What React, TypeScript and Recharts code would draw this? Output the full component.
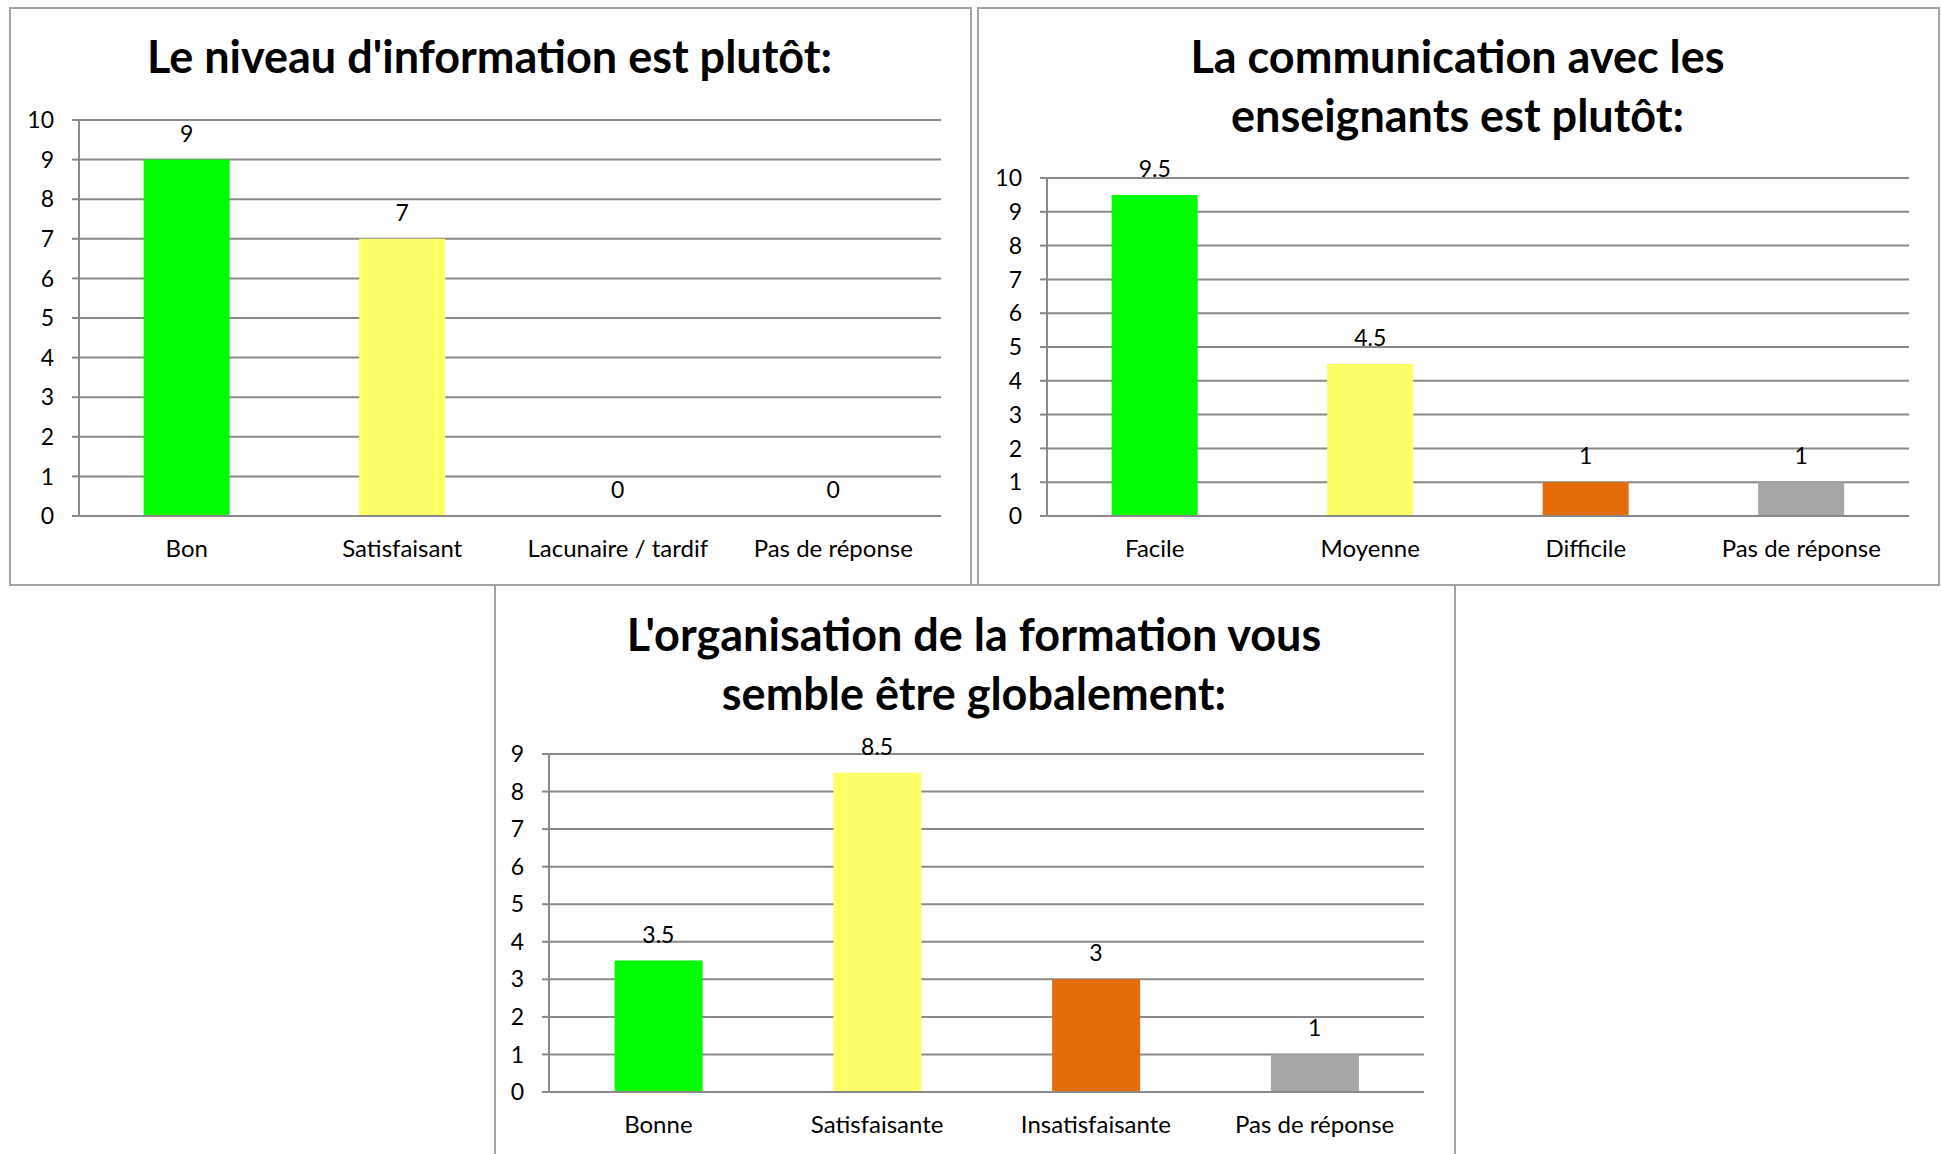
import { BarChart, Bar, XAxis, YAxis, CartesianGrid, Cell, ReferenceDot } from 'recharts';

const infoCategories = ['Bon', 'Satisfaisant', 'Lacunaire / tardif', 'Pas de réponse'];
const infoValues = [9, 7, 0, 0];

const commCategories = ['Facile', 'Moyenne', 'Difficile', 'Pas de réponse'];
const commValues = [9.5, 4.5, 1, 1];

const orgCategories = ['Bonne', 'Satisfaisante', 'Insatisfaisante', 'Pas de réponse'];
const orgValues = [3.5, 8.5, 3, 1];

const barColors = ['#00ff00', '#ffff66', '#e46c0a', '#a6a6a6'];
const ticksTen = [0, 1, 2, 3, 4, 5, 6, 7, 8, 9, 10];
const ticksNine = [0, 1, 2, 3, 4, 5, 6, 7, 8, 9];
const edgeTicks = [0, 1, 2, 3, 4];

const GRID = '#898989';
const FONT = 'Lato, "Open Sans", sans-serif';

interface Box { left: number; top: number; right: number; bottom: number; }

interface SurveyChartProps {
    box: Box;
    plot: Box;
    title: string[];
    titleTop: number;
    categories: string[];
    values: number[];
    yMax: number;
    yTicks: number[];
}

const SurveyChart = ({ box, plot, title, titleTop, categories, values, yMax, yTicks }: SurveyChartProps) => {
    const data = categories.map((name, i) => ({ name, value: values[i] }));
    const chartTop = plot.top - 40;
    const chartHeight = plot.bottom - chartTop + 64;
    const width = box.right - box.left;

    return (
        <>
            <div style={{
                position: 'absolute', left: box.left, top: box.top,
                width: width - 2, height: box.bottom - box.top - 2,
                border: '2px solid #a3a3a3', boxSizing: 'content-box',
            }} />
            <div style={{
                position: 'absolute', left: box.left, top: titleTop, width,
                textAlign: 'center', fontWeight: 700, fontSize: 45, lineHeight: '59px',
                color: '#000',
            }}>
                {title.map((t) => <div key={t}>{t}</div>)}
            </div>
            <div style={{ position: 'absolute', left: box.left, top: chartTop }}>
                <BarChart
                    width={width}
                    height={chartHeight}
                    data={data}
                    margin={{ top: 40, right: box.right - plot.right, left: 0, bottom: 0 }}
                    barCategoryGap="30%"
                >
                    <CartesianGrid xAxisId="cat" vertical={false} stroke={GRID} strokeWidth={2} />
                    {/* tick marks on the category boundaries */}
                    <XAxis
                        xAxisId="edge"
                        type="number"
                        domain={[0, 4]}
                        ticks={edgeTicks}
                        allowDataOverflow
                        height={0}
                        axisLine={false}
                        tickLine={{ stroke: GRID, strokeWidth: 2 }}
                        tickSize={8}
                        tickFormatter={() => ''}
                    />
                    <XAxis
                        xAxisId="cat"
                        dataKey="name"
                        height={64}
                        axisLine={{ stroke: GRID, strokeWidth: 2 }}
                        tickLine={false}
                        tickSize={0}
                        tickMargin={24}
                        interval={0}
                        tick={{ fill: '#000', fontSize: 24, fontFamily: FONT }}
                    />
                    <YAxis
                        width={plot.left - box.left}
                        domain={[0, yMax]}
                        ticks={yTicks}
                        interval={0}
                        axisLine={{ stroke: GRID, strokeWidth: 2 }}
                        tickLine={{ stroke: GRID, strokeWidth: 2 }}
                        tickSize={7}
                        tickMargin={18}
                        tick={{ fill: '#000', fontSize: 23, fontFamily: FONT }}
                    />
                    <Bar xAxisId="cat" dataKey="value" isAnimationActive={false}>
                        {data.map((entry, index) => (
                            <Cell key={`cell-${index}`} fill={barColors[index]} />
                        ))}
                    </Bar>
                    {/* value labels (also shown for zero bars) */}
                    {data.map((entry) => (
                        <ReferenceDot
                            key={`lbl-${entry.name}`}
                            xAxisId="cat"
                            x={entry.name}
                            y={entry.value}
                            r={0}
                            fill="none"
                            stroke="none"
                            label={{
                                value: entry.value,
                                position: 'top',
                                offset: 18,
                                fill: '#000',
                                fontSize: 23,
                                fontFamily: FONT,
                            }}
                        />
                    ))}
                </BarChart>
            </div>
        </>
    );
};

export default function App() {
    return (
        <div style={{
            position: 'absolute', left: 0, top: 0, width: 1941, height: 1154,
            overflow: 'hidden', background: '#fff', fontFamily: FONT,
        }}>
            <SurveyChart
                box={{ left: 9, top: 7, right: 970, bottom: 584 }}
                plot={{ left: 79, top: 120, right: 941, bottom: 516 }}
                title={["Le niveau d'information est plutôt:"]}
                titleTop={27}
                categories={infoCategories}
                values={infoValues}
                yMax={10}
                yTicks={ticksTen}
            />
            <SurveyChart
                box={{ left: 977, top: 7, right: 1938, bottom: 584 }}
                plot={{ left: 1047, top: 178, right: 1909, bottom: 516 }}
                title={['La communication avec les', 'enseignants est plutôt:']}
                titleTop={27}
                categories={commCategories}
                values={commValues}
                yMax={10}
                yTicks={ticksTen}
            />
            <SurveyChart
                box={{ left: 494, top: 584, right: 1454, bottom: 1170 }}
                plot={{ left: 549, top: 754, right: 1424, bottom: 1092 }}
                title={["L'organisation de la formation vous", 'semble être globalement:']}
                titleTop={605}
                categories={orgCategories}
                values={orgValues}
                yMax={9}
                yTicks={ticksNine}
            />
        </div>
    );
}
